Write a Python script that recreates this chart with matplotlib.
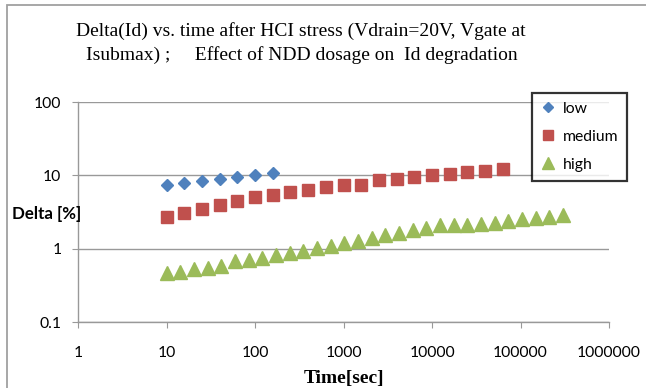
import numpy as np
import matplotlib
matplotlib.use("Agg")
import matplotlib.pyplot as plt
from matplotlib.patches import Rectangle
from matplotlib.ticker import FixedLocator, FuncFormatter, NullLocator

# stress time [sec] and Id degradation [%] per NDD dosage
low_time = [10, 15.8, 25.1, 39.8, 63.1, 100, 158]
low_delta = [7.35, 7.8, 8.4, 9.0, 9.5, 10.2, 10.7]

medium_time = [10, 15.8, 25.1, 39.8, 63.1, 100, 158, 251, 398, 631,
               1000, 1580, 2510, 3980, 6310, 10000, 15800, 25100, 39800, 63100]
medium_delta = [2.74, 3.08, 3.49, 3.96, 4.40, 5.0, 5.37, 5.85, 6.35, 6.98,
                7.4, 7.45, 8.6, 8.85, 9.45, 10.0, 10.5, 11.1, 11.6, 12.1]

high_time = [10, 14.3, 20.4, 29.1, 41.5, 59.2, 84.5, 121, 172, 246,
             351, 500, 714, 1020, 1450, 2080, 2960, 4230, 6040, 8610,
             12300, 17500, 25000, 35700, 51000, 72800, 104000, 148000, 212000, 302000]
high_delta = [0.46, 0.48, 0.52, 0.54, 0.585, 0.67, 0.71, 0.75, 0.81, 0.87,
              0.94, 1.01, 1.08, 1.19, 1.29, 1.40, 1.54, 1.66, 1.80, 1.92,
              2.07, 2.07, 2.07, 2.16, 2.23, 2.39, 2.50, 2.63, 2.74, 2.90]

x_ticks = [1, 10, 100, 1000, 10000, 100000, 1000000]
y_ticks = [0.1, 1, 10, 100]

W, H = 646, 388
fig = plt.figure(figsize=(W / 100, H / 100), dpi=100)
fig.patch.set_facecolor("white")

# chart area border (only left/top visible in the crop)
fig.patches.append(Rectangle((7 / W, -0.2), 1.2, 1.2 - 5 / H, transform=fig.transFigure,
                             fill=False, edgecolor="#a0a0a0", linewidth=1.3))

ax = fig.add_axes([78 / W, 1 - 322 / H, (609 - 78) / W, (322 - 102) / H])

tick_font = "Lato"
ax.plot(low_time, low_delta, linestyle="none", marker="D", markersize=6.4,
        color="#4F81BD", label="low")
ax.plot(medium_time, medium_delta, linestyle="none", marker="s", markersize=9.2,
        color="#C0504D", label="medium")
ax.plot(high_time, high_delta, linestyle="none", marker="^", markersize=9.5,
        color="#9BBB59", label="high")

ax.set_xscale("log")
ax.set_yscale("log")
ax.set_xlim(1, 1000000)
ax.set_ylim(0.1, 100)

ax.xaxis.set_major_locator(FixedLocator(x_ticks))
ax.yaxis.set_major_locator(FixedLocator(y_ticks))
ax.xaxis.set_minor_locator(NullLocator())
ax.yaxis.set_minor_locator(NullLocator())
fmt = FuncFormatter(lambda v, p: f"{v:g}" if v < 1 else f"{int(round(v))}")
ax.xaxis.set_major_formatter(fmt)
ax.yaxis.set_major_formatter(fmt)

ax.grid(True, axis="y", color="#999999", linewidth=1.0)
ax.set_axisbelow(True)
for s in ["top", "right"]:
    ax.spines[s].set_visible(False)
for s in ["left", "bottom"]:
    ax.spines[s].set_color("#999999")
    ax.spines[s].set_linewidth(1.0)

ax.tick_params(axis="x", direction="out", length=4, color="#999999", pad=13,
               labelsize=11.3)
ax.tick_params(axis="y", direction="out", length=4, color="#999999", pad=8,
               labelsize=11.3)
for lab in ax.get_xticklabels() + ax.get_yticklabels():
    lab.set_fontfamily(tick_font)

fig.text(301 / W, 1 - 31 / H,
         "Delta(Id) vs. time after HCI stress (Vdrain=20V, Vgate at",
         ha="center", va="center", family="Liberation Serif", fontsize=14)
fig.text(302 / W, 1 - 55 / H,
         "Isubmax) ;     Effect of NDD dosage on  Id degradation",
         ha="center", va="center", family="Liberation Serif", fontsize=14)

fig.text(344 / W, 1 - 378 / H, "Time[sec]", ha="center", va="center",
         family="Liberation Serif", fontweight="bold", fontsize=14)
fig.text(12 / W, 1 - 214 / H, "Delta [%]", ha="left", va="center",
         family=tick_font, fontweight="bold", fontsize=12.2)

leg = ax.legend(loc="upper left", bbox_to_anchor=(532 / W, 1 - 93 / H),
                bbox_transform=fig.transFigure, prop={"family": tick_font, "size": 11.3},
                frameon=True, fancybox=False, labelspacing=0.9, handlelength=1.0,
                handletextpad=0.4, borderpad=0.55, borderaxespad=0, markerscale=0.85)
leg.get_frame().set_edgecolor("black")
leg.get_frame().set_linewidth(1.6)

fig.savefig("out.png", dpi=100)
